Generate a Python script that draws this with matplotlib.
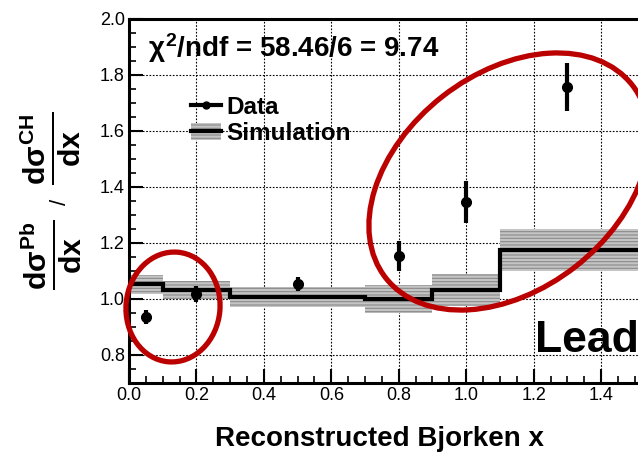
import matplotlib
matplotlib.use("Agg")
import matplotlib.pyplot as plt
import numpy as np
from matplotlib.patches import Ellipse, Patch
from matplotlib.lines import Line2D
from matplotlib.transforms import IdentityTransform
from matplotlib.ticker import MultipleLocator

plt.rcParams['font.family'] = ['Liberation Sans', 'DejaVu Sans']
plt.rcParams['mathtext.fontset'] = 'custom'
plt.rcParams['mathtext.rm'] = 'Liberation Sans:bold'
plt.rcParams['mathtext.it'] = 'Liberation Sans:bold'
plt.rcParams['mathtext.bf'] = 'Liberation Sans:bold'
plt.rcParams['hatch.linewidth'] = 0.8

# Data
data_x = [0.05, 0.2, 0.5, 0.8, 1.0, 1.3]
data_y = [0.935, 1.018, 1.055, 1.153, 1.347, 1.758]
data_err = [0.025, 0.03, 0.025, 0.054, 0.075, 0.085]

# Simulation (step histogram)
sim_edges = [0.0, 0.1, 0.3, 0.7, 0.9, 1.1, 1.7]
sim_vals = [1.052, 1.031, 1.008, 1.0, 1.032, 1.174]
sim_err = [0.035, 0.032, 0.035, 0.05, 0.058, 0.075]

x_ticks = [0.0, 0.2, 0.4, 0.6, 0.8, 1.0, 1.2, 1.4]
y_ticks = [0.8, 1.0, 1.2, 1.4, 1.6, 1.8, 2.0]

W, H = 638, 457
fig = plt.figure(figsize=(W/100, H/100), dpi=100)
ax_left = 129 / W
ax_bottom = (H - 383) / H
ax_height = (383 - 19) / H
xmax = 1.6
ax_width = xmax * 337.2 / W
ax = fig.add_axes([ax_left, ax_bottom, ax_width, ax_height])
ax.set_xlim(0, xmax)
ax.set_ylim(0.7, 2.0)

# simulation band
edges = np.array(sim_edges)
vals = np.array(sim_vals)
errs = np.array(sim_err)
for i in range(len(vals)):
    ax.fill_between([edges[i], edges[i+1]], vals[i]-errs[i], vals[i]+errs[i],
                    facecolor='#c4c4c4', edgecolor='#8a8a8a', hatch='-----',
                    linewidth=0, zorder=2)
ax.stairs(vals, edges, color='black', linewidth=3.0, baseline=None, zorder=3)

# data
ax.errorbar(data_x, data_y, yerr=data_err, fmt='o', color='black',
            markersize=7, elinewidth=3, capsize=0, zorder=4)

# axes styling
ax.set_xticks(x_ticks)
ax.set_yticks(y_ticks)
ax.set_xticklabels([f"{v:.1f}" for v in x_ticks])
ax.set_yticklabels([f"{v:.1f}" for v in y_ticks])
ax.xaxis.set_minor_locator(MultipleLocator(0.05))
ax.yaxis.set_minor_locator(MultipleLocator(0.05))
ax.tick_params(which='major', direction='in', length=10, width=1.5,
               labelsize=13, pad=3)
ax.tick_params(which='minor', direction='in', length=5, width=1.2)
ax.grid(True, which='major', color='black', linestyle=(0, (1.5, 1.5)),
        linewidth=0.8, zorder=1)
for s in ax.spines.values():
    s.set_linewidth(2.2)

# labels
fig.text(379 / W, 1 - 439 / H, 'Reconstructed Bjorken x', ha='center',
         va='center', fontsize=20, fontweight='bold')
fig.text(51 / W, 1 - 255 / H, r'$\frac{d\sigma^{Pb}}{dx}$',
         rotation=90, ha='center', va='center', fontsize=31)
fig.text(60 / W, 1 - 202 / H, '/', rotation=90, ha='center', va='center',
         fontsize=16)
fig.text(51 / W, 1 - 148 / H, r'$\frac{d\sigma^{CH}}{dx}$',
         rotation=90, ha='center', va='center', fontsize=31)

fig.text(148 / W, 1 - 48 / H, r'$\chi^{2}$/ndf = 58.46/6 = 9.74',
         ha='left', va='center', fontsize=20, fontweight='bold')

# legend
h_data = Line2D([], [], color='black', marker='o', markersize=5, linewidth=3)
h_sim = (Patch(facecolor='#c4c4c4', edgecolor='#8a8a8a', hatch='-----', linewidth=0),
         Line2D([], [], color='black', linewidth=3))
leg = ax.legend([h_data, h_sim], ['Data', 'Simulation'],
                loc='upper left', bbox_to_anchor=(191 / W, 1 - 96 / H),
                bbox_transform=fig.transFigure, frameon=False,
                prop={'weight': 'bold', 'size': 17.5}, handlelength=1.25,
                handletextpad=0.2, labelspacing=0.12, borderpad=0,
                borderaxespad=0)

# annotations
tr = IdentityTransform()
e1 = Ellipse((173, H - 307), 94, 110, angle=-5, fill=False,
             edgecolor='#bb0000', linewidth=3.8, transform=tr, zorder=10)
e2 = Ellipse((509, H - 181.5), 313, 216, angle=38, fill=False,
             edgecolor='#bb0000', linewidth=3.8, transform=tr, zorder=10)
fig.add_artist(e1)
fig.add_artist(e2)
fig.text(535 / W, 1 - 352 / H, 'Lead', ha='left', va='baseline',
         fontsize=32, fontweight='bold')

fig.savefig('out.png', dpi=100)
